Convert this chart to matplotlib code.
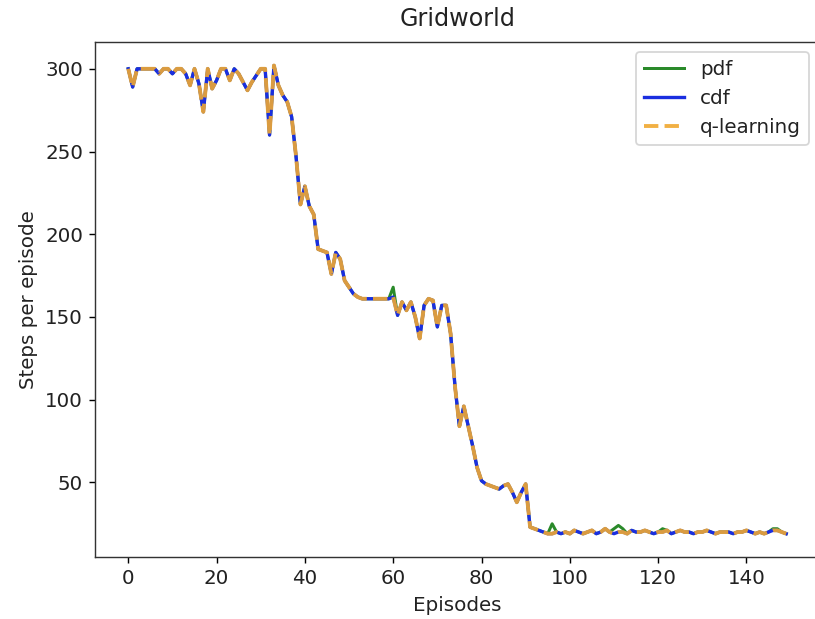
import numpy as np
import matplotlib
matplotlib.use("Agg")
import matplotlib.pyplot as plt

episodes = list(range(150))

# shared base curve (cdf and q-learning overlap almost everywhere)
base = [
    300, 289, 300, 300, 300, 300, 300, 297, 300, 300,   # 0-9
    297, 300, 300, 297, 290, 300, 291, 274, 300, 288,   # 10-19
    293, 300, 300, 293, 300, 297, 292, 287, 292, 296,   # 20-29
    300, 300, 260, 302, 290, 284, 280, 271, 247, 218,   # 30-39
    229, 217, 212, 191, 190, 189, 176, 189, 185, 172,   # 40-49
    168, 164, 162, 161, 161, 161, 161, 161, 161, 161,   # 50-59
    162, 151, 159, 154, 159, 150, 137, 157, 161, 160,   # 60-69
    144, 157, 157, 140, 108, 84, 96, 84, 72, 59,        # 70-79
    51, 49, 48, 47, 46, 48, 49, 44, 38, 44,             # 80-89
    49, 23, 22, 21, 20, 19, 19, 20, 19, 20,             # 90-99
    19, 21, 20, 19, 20, 21, 19, 20, 22, 20,             # 100-109
    19, 20, 20, 19, 21, 20, 20, 21, 20, 19,             # 110-119
    20, 20, 21, 19, 20, 21, 20, 20, 19, 20,             # 120-129
    20, 21, 20, 19, 20, 20, 20, 19, 20, 20,             # 130-139
    21, 20, 19, 20, 19, 20, 21, 21, 20, 19,             # 140-149
]

cdf = list(base)
qlearning = list(base)
pdf = list(base)
# episodes where the pdf curve differs
pdf_diff = {60: 168, 96: 25, 110: 22, 111: 24, 112: 22, 121: 22, 146: 22, 147: 22}
for k, v in pdf_diff.items():
    pdf[k] = v

plt.rcParams["font.size"] = 11.3
plt.rcParams["axes.titlesize"] = 13.5
plt.rcParams["text.color"] = "#222222"
plt.rcParams["axes.labelcolor"] = "#222222"
plt.rcParams["xtick.labelcolor"] = "#222222"
plt.rcParams["ytick.labelcolor"] = "#222222"

fig = plt.figure(figsize=(815 / 127, 619 / 127), dpi=127)
ax = fig.add_axes([0.117, 0.100, 0.888, 0.832])

ax.plot(episodes, pdf, color="#2a8a2a", lw=1.7, label="pdf")
ax.plot(episodes, cdf, color="#1a2ee0", lw=1.9, label="cdf")
ax.plot(episodes, qlearning, color="#f0a830", lw=2.2, ls="--", label="q-learning", alpha=0.9)

for s in ax.spines.values():
    s.set_color("#333333")

ax.set_title("Gridworld", pad=9)
ax.set_xlabel("Episodes")
ax.set_ylabel("Steps per episode")
ax.set_xticks([0, 20, 40, 60, 80, 100, 120, 140])
ax.set_yticks([50, 100, 150, 200, 250, 300])
ax.legend(loc="upper right")

fig.savefig("out.png", dpi=127)
